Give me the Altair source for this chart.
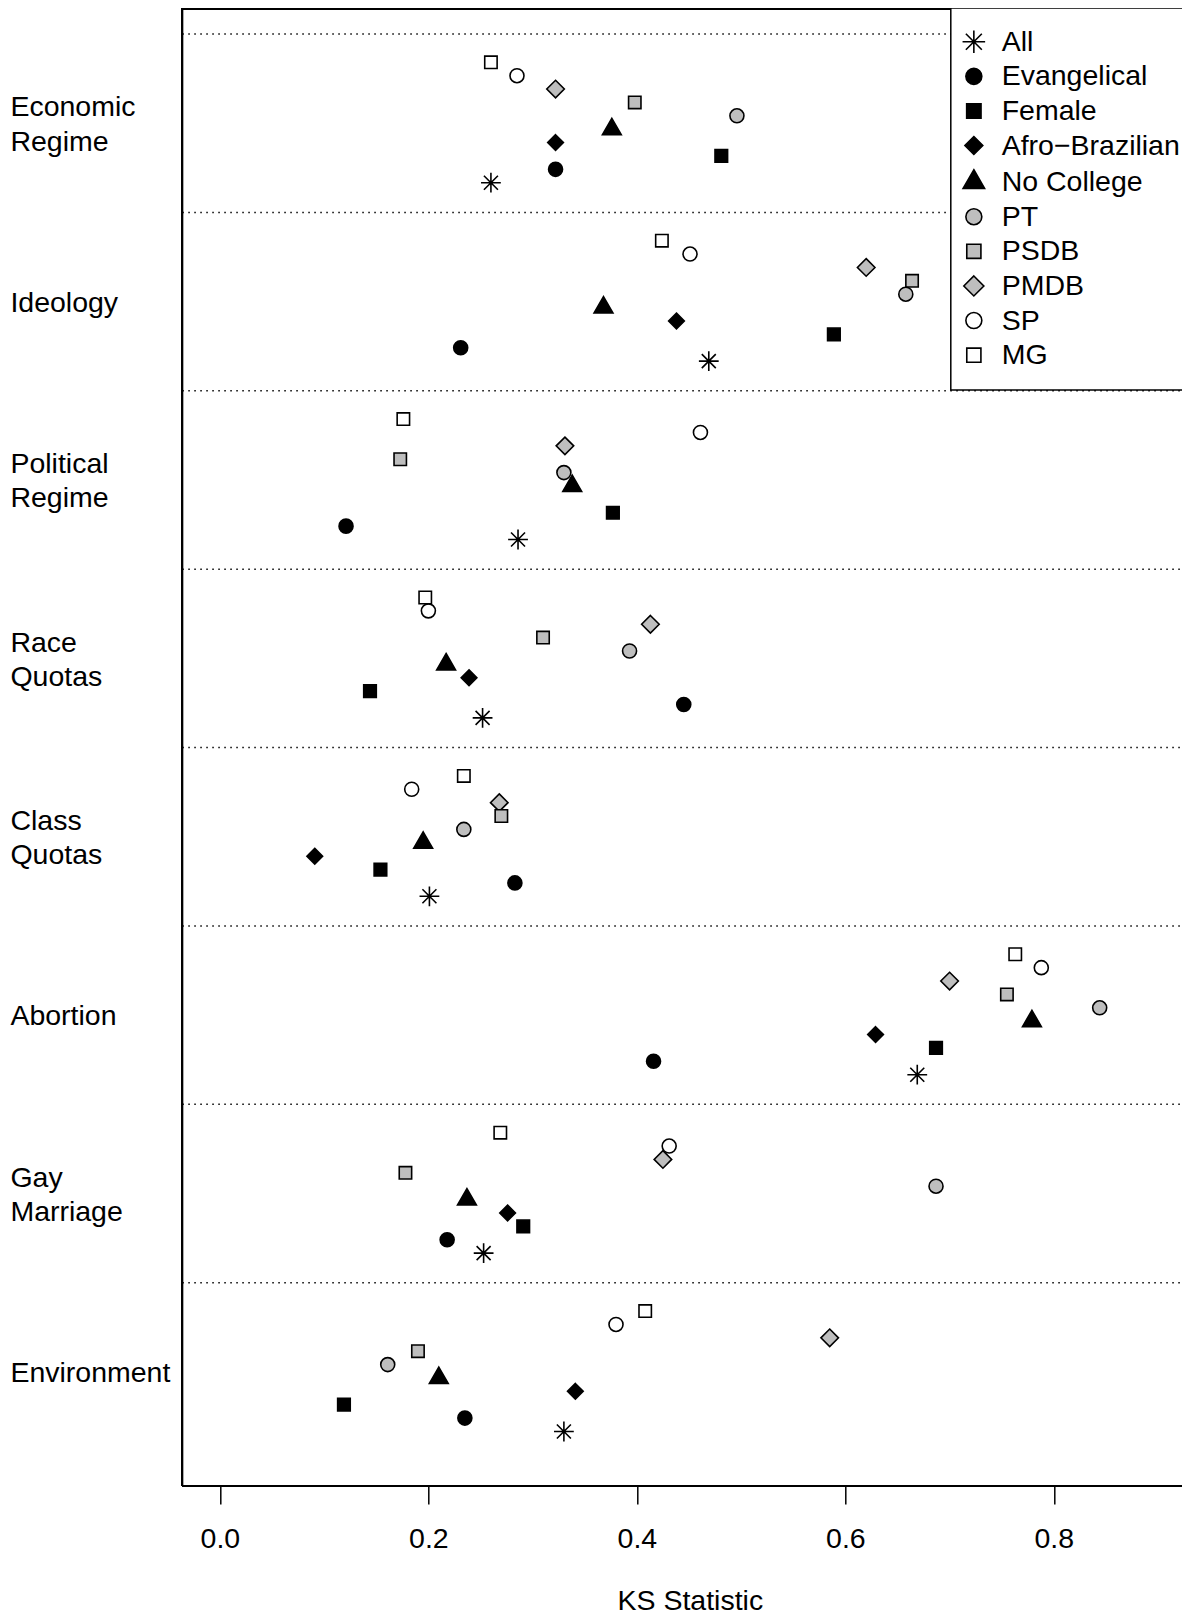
import altair as alt
import pandas as pd

# ---------------- data ----------------
CATEGORIES = ["Economic\nRegime", "Ideology", "Political\nRegime", "Race\nQuotas",
              "Class\nQuotas", "Abortion", "Gay\nMarriage", "Environment"]

SERIES = ["All", "Evangelical", "Female", "Afro\u2212Brazilian", "No College",
          "PT", "PSDB", "PMDB", "SP", "MG"]

ALL = [0.260, 0.469, 0.286, 0.252, 0.201, 0.669, 0.253, 0.330]
EVANGELICAL = [0.322, 0.231, 0.121, 0.445, 0.283, 0.416, 0.218, 0.235]
FEMALE = [0.481, 0.589, 0.377, 0.144, 0.154, 0.687, 0.291, 0.119]
AFRO = [0.322, 0.438, None, 0.239, 0.091, 0.629, 0.276, 0.341]
NO_COLLEGE = [0.376, 0.368, 0.338, 0.217, 0.195, 0.779, 0.237, 0.210]
PT = [0.496, 0.658, 0.330, 0.393, 0.234, 0.844, 0.687, 0.161]
PSDB = [0.398, 0.664, 0.173, 0.310, 0.270, 0.755, 0.178, 0.190]
PMDB = [0.322, 0.620, 0.331, 0.413, 0.268, 0.700, 0.425, 0.585]
SP = [0.285, 0.451, 0.461, 0.200, 0.184, 0.788, 0.431, 0.380]
MG = [0.260, 0.424, 0.176, 0.197, 0.234, 0.763, 0.269, 0.408]

VALUES = [ALL, EVANGELICAL, FEMALE, AFRO, NO_COLLEGE, PT, PSDB, PMDB, SP, MG]

X_TICKS = [0.0, 0.2, 0.4, 0.6, 0.8]

# ---------------- layout ----------------
W, H = 1000, 1478
PAD_LEFT = 174.3
PX_PER_UNIT = 1042.4
X_MIN = -0.03607
X_MAX = X_MIN + W / PX_PER_UNIT
ROW_PX = 13.38            # pixels between two series rows
Y_MAX = H / ROW_PX
FIRST_LINE = 1.943        # first dotted separator (rows from top)
BAND = 13.333             # rows per category band
GAP = 2.115               # separator -> first point
LINE_H = 34.2 / ROW_PX    # text line height in rows
LABEL_SHIFT = 0.15
FONT = "Liberation Sans"
FS = 28.5

# symbol paths (unit = 5 px, size 100)
R = 1.4
def circ(r):
    return f"M{r},0A{r},{r},0,1,1,{-r},0A{r},{r},0,1,1,{r},0Z"
def sq(h):
    return f"M{-h:.3f},{-h:.3f}L{h:.3f},{-h:.3f}L{h:.3f},{h:.3f}L{-h:.3f},{h:.3f}Z"
def dia(h):
    return f"M0,{-h:.3f}L{h:.3f},0L0,{h:.3f}L{-h:.3f},0Z"
tr = 1.5551 * R
TRI = f"M0,{-tr:.3f}L{0.866*tr:.3f},{0.5*tr:.3f}L{-0.866*tr:.3f},{0.5*tr:.3f}Z"
a = R
p = 1.4142 * R
AST = (f"M{-a},{-a}L{a},{a}M{-a},{a}L{a},{-a}"
       f"M{-p:.3f},0L{p:.3f},0M0,{-p:.3f}L0,{p:.3f}")

SHAPES = [AST, circ(R), sq(0.9 * R), dia(1.12 * R), TRI,
          circ(R), sq(0.886 * R), dia(1.2533 * R), circ(R), sq(0.886 * R)]
GRAY = "#BEBEBE"
FILLS = ["black", "black", "black", "black", "black",
         GRAY, GRAY, GRAY, "transparent", "transparent"]
STROKES = ["black"] * len(SERIES)

# ---------------- tables ----------------
rows = []
for g, cat in enumerate(CATEGORIES):
    line = FIRST_LINE + BAND * g
    for j in reversed(range(len(SERIES))):   # MG drawn first, All last
        v = VALUES[j][g]
        if v is None:
            continue
        rows.append({"category": cat, "series": SERIES[j], "ks": v,
                     "ypos": line + GAP + (len(SERIES) - 1 - j)})
pts = pd.DataFrame(rows)

lines = pd.DataFrame({"ypos": [FIRST_LINE + BAND * g for g in range(len(CATEGORIES))]})

lab_rows = []
for g, cat in enumerate(CATEGORIES):
    center = FIRST_LINE + BAND * g + GAP + 4.5 + LABEL_SHIFT
    parts = cat.split("\n")
    n = len(parts)
    for k, part in enumerate(parts):
        lab_rows.append({"text": part, "ypos": center + (k - (n - 1) / 2) * LINE_H})
labels = pd.DataFrame(lab_rows)

xscale = alt.Scale(domain=[X_MIN, X_MAX], nice=False, zero=False)
yscale = alt.Scale(domain=[0, Y_MAX], reverse=True, nice=False, zero=False)

legend = alt.Legend(title=None, orient="none", legendX=768.5, legendY=0)

points = alt.Chart(pts).mark_point(
    filled=True, size=100, stroke="black", strokeWidth=1.6, opacity=1
).encode(
    x=alt.X("ks:Q", scale=xscale,
            axis=alt.Axis(values=X_TICKS, format=".1f", title="KS Statistic",
                          grid=False, domain=False, tickSize=18, tickWidth=1.5,
                          tickColor="black", labelPadding=44, labelBaseline="alphabetic",
                          labelFlush=False, titleY=124, titleX=507.5, titleAlign="center",
                          titleBaseline="alphabetic")),
    y=alt.Y("ypos:Q", scale=yscale, axis=None),
    shape=alt.Shape("series:N", scale=alt.Scale(domain=SERIES, range=SHAPES), legend=legend),
    fill=alt.Fill("series:N", scale=alt.Scale(domain=SERIES, range=FILLS), legend=legend),
    stroke=alt.Stroke("series:N", scale=alt.Scale(domain=SERIES, range=STROKES), legend=legend),
)

dotted = alt.Chart(lines).mark_rule(
    color="black", strokeWidth=1.5, strokeDash=[1.5, 4.5]
).encode(y=alt.Y("ypos:Q", scale=yscale, axis=None), x=alt.value(0), x2=alt.value(W))

frame_left = alt.Chart(lines).mark_rule(color="black", strokeWidth=1.5).encode(
    x=alt.value(0), y=alt.value(0), y2=alt.value(H))
frame_top = alt.Chart(lines).mark_rule(color="black", strokeWidth=1.5).encode(
    x=alt.value(0), x2=alt.value(W), y=alt.value(0.75))
frame_bottom = alt.Chart(lines).mark_rule(color="black", strokeWidth=1.5).encode(
    x=alt.value(0), x2=alt.value(W), y=alt.value(H))

cat_text = alt.Chart(labels).mark_text(
    align="left", baseline="middle", font=FONT, fontSize=FS, color="black"
).encode(x=alt.value(-171.9), y=alt.Y("ypos:Q", scale=yscale, axis=None), text="text:N")

chart = alt.layer(dotted, frame_left, frame_top, frame_bottom, points, cat_text).properties(
    width=W, height=H,
    autosize=alt.AutoSizeParams(type="none"),
    padding={"left": PAD_LEFT, "top": 0, "right": 0, "bottom": 130},
).configure_view(stroke=None).configure_axis(
    labelFont=FONT, labelFontSize=FS, labelColor="black",
    titleFont=FONT, titleFontSize=FS, titleColor="black", titleFontWeight="normal",
).configure_legend(
    padding=19.5, strokeColor="black", strokeWidth=1.5, fillColor="white",
    symbolSize=130, symbolStrokeWidth=1.6, symbolStrokeColor="black", symbolOpacity=1,
    symbolOffset=-10.7,
    labelFont=FONT, labelFontSize=FS, labelColor="black", labelLimit=400,
    labelOffset=13.6, rowPadding=5.6,
)

chart.save("out.html", embed_options={"renderer": "svg", "actions": False})
